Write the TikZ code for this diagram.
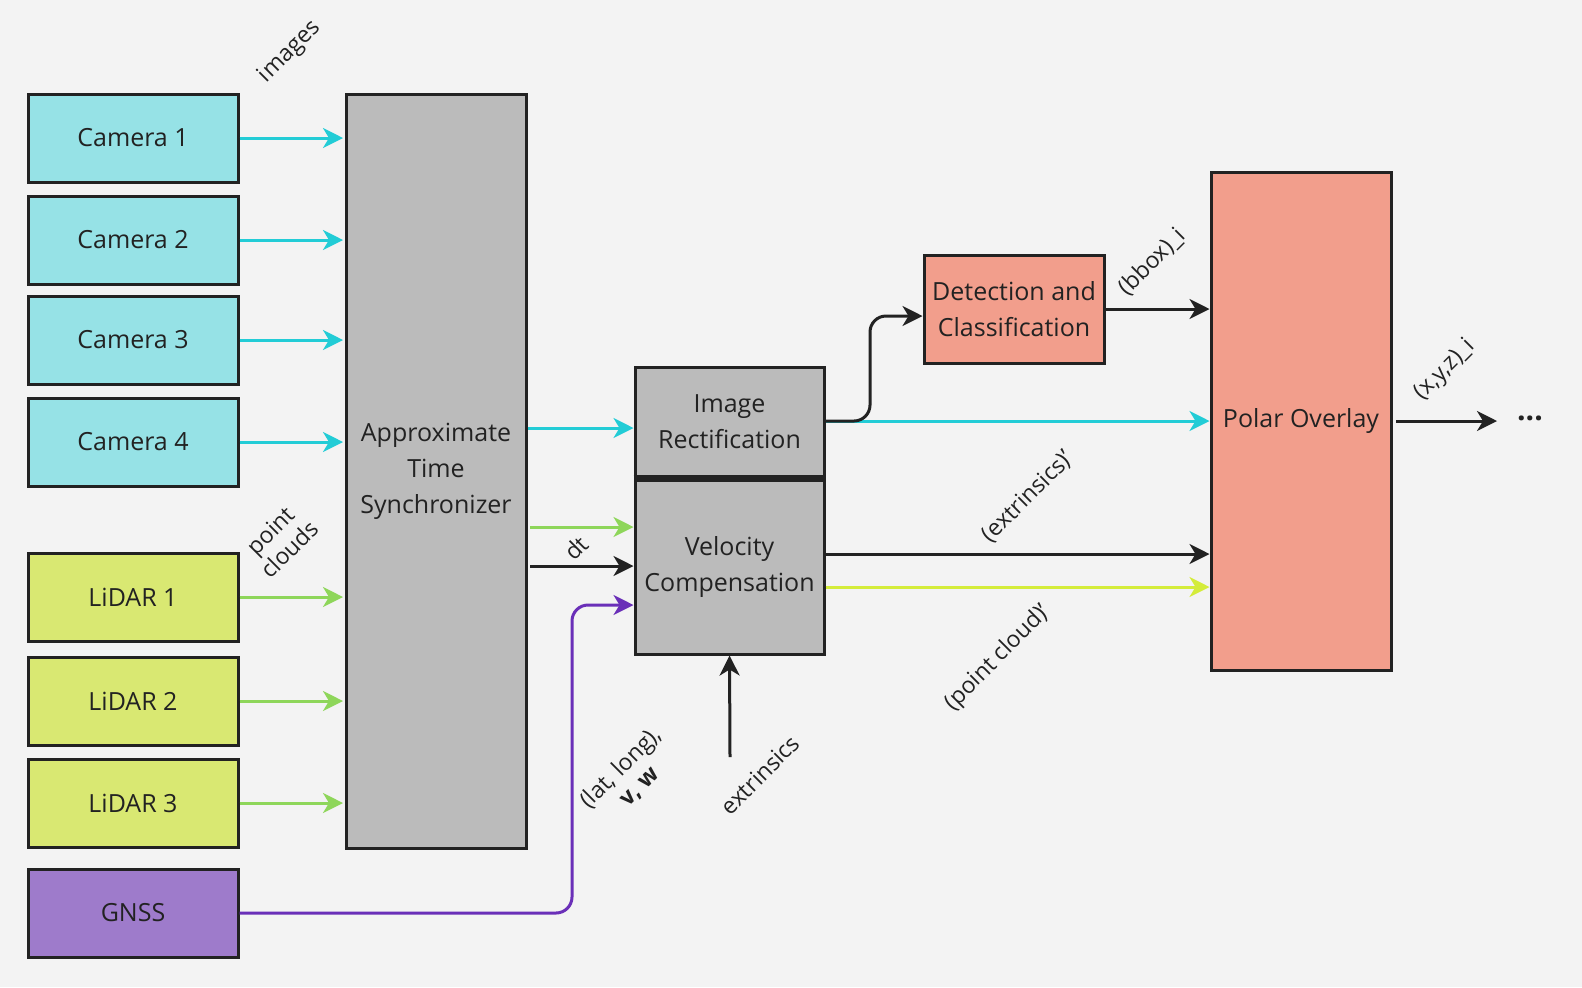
\documentclass[tikz,border=0pt]{standalone}
\usepackage{fontspec}
\setmainfont{Open Sans}
\usetikzlibrary{arrows.meta}
\definecolor{bg}{HTML}{F3F3F3}
\definecolor{camf}{HTML}{96E2E6}
\definecolor{cyanl}{HTML}{22CCD6}
\definecolor{lidf}{HTML}{D9E872}
\definecolor{greenl}{HTML}{8ED65A}
\definecolor{limel}{HTML}{D4EC3A}
\definecolor{gnssf}{HTML}{9E7BCB}
\definecolor{purpl}{HTML}{6A2FB8}
\definecolor{grayf}{HTML}{BBBBBB}
\definecolor{salm}{HTML}{F29E8C}
\definecolor{dk}{HTML}{222222}
\begin{document}
\begin{tikzpicture}[x=0.5pt,y=-0.5pt,
  box/.style={draw=dk,line width=1.5pt,inner sep=0pt,align=center,font=\fontsize{12.5}{18}\selectfont,text=dk},
  arr/.style={line width=1.5pt,-{Stealth[length=10pt,width=10pt,inset=3pt]}},
  lbl/.style={rotate=45,font=\fontsize{11.5}{13}\selectfont,text=dk,align=center}]
\fill[bg] (0,0) rectangle (1582,987);
\foreach \n/\t/\y in {c1/Camera 1/138,c2/Camera 2/240,c3/Camera 3/340,c4/Camera 4/442}
  \node[box,fill=camf,minimum width=105pt,minimum height=44pt] (\n) at (133,\y) {\t};
\foreach \n/\t/\y in {l1/LiDAR 1/597,l2/LiDAR 2/701,l3/LiDAR 3/803}
  \node[box,fill=lidf,minimum width=105pt,minimum height=44pt] (\n) at (133,\y) {\t};
\node[box,fill=gnssf,minimum width=105pt,minimum height=44pt] (g) at (133,913) {GNSS};
\node[box,fill=grayf,minimum width=90pt,minimum height=377pt] (s) at (436,471) {Approximate\\Time\\Synchronizer};
\node[box,fill=grayf,minimum width=94.5pt,minimum height=54.5pt] (ir) at (729.5,421.5) {Image\\Rectification};
\node[box,fill=grayf,minimum width=94.5pt,minimum height=87pt] (vc) at (729.5,567) {Velocity\\Compensation};
\draw[dk,line width=3pt] (ir.south west) -- (ir.south east);
\node[box,fill=salm,minimum width=90pt,minimum height=54pt] (d) at (1014,309) {Detection and\\Classification};
\node[box,fill=salm,minimum width=90pt,minimum height=249pt] (p) at (1301,421) {Polar Overlay};
\foreach \n/\y in {c1/138,c2/240,c3/340,c4/442}
  \draw[arr,cyanl] (\n.east) -- (343,\y);
\foreach \n/\y in {l1/597,l2/701,l3/803}
  \draw[arr,greenl] (\n.east) -- (343,\y);
\draw[arr,cyanl] (s.east|-0,428) -- (ir.west|-0,428);
\draw[arr,greenl] (530,527) -- (vc.west|-0,527);
\draw[arr,dk] (530,566) -- (vc.west|-0,566);
\draw[arr,purpl,rounded corners=8pt] (g.east) -- (572,913) -- (572,605) -- (vc.west|-0,605);
\coordinate (ex) at (730,757);
\draw[arr,dk] (ex) -- (vc.south);
\draw[arr,cyanl] (ir.east|-0,421) -- (p.west|-0,421);
\draw[arr,dk,rounded corners=8pt] (826,421) -- (870,421) -- (870,316) -- (d.west|-0,316);
\draw[arr,dk] (d.east|-0,309) -- (p.west|-0,309);
\draw[arr,dk] (vc.east|-0,554) -- (p.west|-0,554);
\draw[arr,limel] (vc.east|-0,587) -- (p.west|-0,587);
\coordinate (o) at (1497,421);
\draw[arr,dk] (1396,421) -- (o);
\node[font=\bfseries\fontsize{15}{15}\selectfont,text=dk] (dots) at (1530,418) {...};
\node[lbl] (t1) at (290,52) {images};
\node[lbl] (t2) at (280,540) {point\\clouds};
\node[lbl] (t3) at (576,548) {dt};
\node[lbl] (t4) at (1152,262) {(bbox)\_i};
\node[lbl] (t5) at (1445,370) {(x,y,z)\_i};
\node[lbl] (t6) at (1028,497) {(extrinsics)'};
\node[lbl] (t7) at (998,658) {(point cloud)'};
\node[lbl] (t8) at (630,777) {(lat, long),\\\textbf{v, w}};
\node[lbl] (t9) at (760,775) {extrinsics};
\pgfresetboundingbox
\useasboundingbox (0,0) rectangle (1582,987);
\end{tikzpicture}
\end{document}
